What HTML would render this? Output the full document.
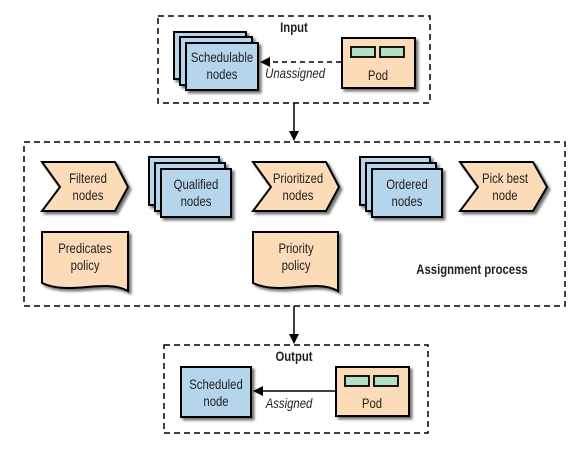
<!DOCTYPE html>
<html><head><meta charset="utf-8"><style>
html,body{margin:0;padding:0;background:#fff;}
svg{display:block;}
text{font-family:"Liberation Sans",sans-serif;font-size:13.5px;fill:#231f20;text-anchor:middle;transform-box:fill-box;transform-origin:center;transform:scaleX(0.84);}
.b{font-weight:bold;}
</style></head><body>
<svg width="588" height="450" viewBox="0 0 588 450" xmlns="http://www.w3.org/2000/svg">
<defs>
<filter id="sh" x="-20%" y="-20%" width="150%" height="150%"><feDropShadow dx="2.5" dy="2.5" stdDeviation="1.2" flood-color="#000" flood-opacity="0.55"/></filter>
<marker id="ah" markerWidth="10" markerHeight="10" refX="9" refY="5" orient="auto" markerUnits="userSpaceOnUse"><path d="M0,0 L10,5 L0,10 z" fill="#000"/></marker>
</defs>
<g fill="none" stroke="#000" stroke-width="1.5" stroke-dasharray="6,4">
<rect x="158" y="16" width="272" height="87"/>
<rect x="24" y="142" width="541" height="164"/>
<rect x="164" y="345" width="264" height="88"/>
</g>
<g stroke="#000" stroke-width="1.5">
<line x1="294" y1="103" x2="294" y2="140" marker-end="url(#ah)"/>
<line x1="294" y1="306" x2="294" y2="343" marker-end="url(#ah)"/>
<line x1="341" y1="62" x2="261" y2="62" stroke-dasharray="5,4" marker-end="url(#ah)"/>
<line x1="336" y1="391" x2="254" y2="391" marker-end="url(#ah)"/>
</g>
<text class="b" x="294" y="32">Input</text>
<text class="b" x="294" y="361">Output</text>
<text class="b" x="472" y="274">Assignment process</text>
<text x="295" y="78" font-style="italic">Unassigned</text>
<text x="289" y="408" font-style="italic">Assigned</text>
<g stroke="#000" stroke-width="2" fill="#b4d5ec" filter="url(#sh)">
<rect x="174" y="32" width="72" height="47"/>
<rect x="180" y="37" width="72" height="48"/>
<rect x="186" y="43" width="72" height="47"/>
<rect x="149" y="157" width="70" height="48"/>
<rect x="155" y="163" width="70" height="48"/>
<rect x="161" y="169" width="70" height="48"/>
<rect x="360" y="157" width="70" height="48"/>
<rect x="366" y="163" width="70" height="48"/>
<rect x="372" y="169" width="70" height="48"/>
<rect x="181" y="367" width="70" height="50"/>
</g>
<g stroke="#000" stroke-width="2" fill="#fcdcb8" filter="url(#sh)">
<rect x="342" y="38" width="73" height="50"/>
<rect x="336" y="367" width="73" height="49"/>
<path d="M42,162 L115,162 L128,187 L115,211 L42,211 L60,187 Z"/>
<path d="M253,162 L326,162 L339,187 L326,211 L253,211 L271,187 Z"/>
<path d="M460,162 L533,162 L547,187 L533,211 L460,211 L478,187 Z"/>
<path d="M42,232 L128,232 L128,291 C105,278 70,296 42,283 Z"/>
<path d="M253,232 L338,232 L338,291 C316,278 281,296 253,283 Z"/>
</g>
<g stroke="#000" stroke-width="1.8" fill="#b3dfc8">
<rect x="351" y="47" width="24" height="10"/>
<rect x="380" y="47" width="24" height="10"/>
<rect x="345" y="376" width="24" height="10"/>
<rect x="374" y="376" width="24" height="10"/>
</g>
<text x="222" y="62">Schedulable</text><text x="222" y="79">nodes</text>
<text x="378" y="80">Pod</text>
<text x="372" y="408">Pod</text>
<text x="216" y="389">Scheduled</text><text x="216" y="406">node</text>
<text x="88" y="183">Filtered</text><text x="88" y="200">nodes</text>
<text x="196" y="189">Qualified</text><text x="196" y="206">nodes</text>
<text x="298" y="183">Prioritized</text><text x="298" y="200">nodes</text>
<text x="407" y="189">Ordered</text><text x="407" y="206">nodes</text>
<text x="505" y="183">Pick best</text><text x="505" y="200">node</text>
<text x="85" y="253">Predicates</text><text x="85" y="270">policy</text>
<text x="296" y="253">Priority</text><text x="296" y="270">policy</text>
</svg>
</body></html>
